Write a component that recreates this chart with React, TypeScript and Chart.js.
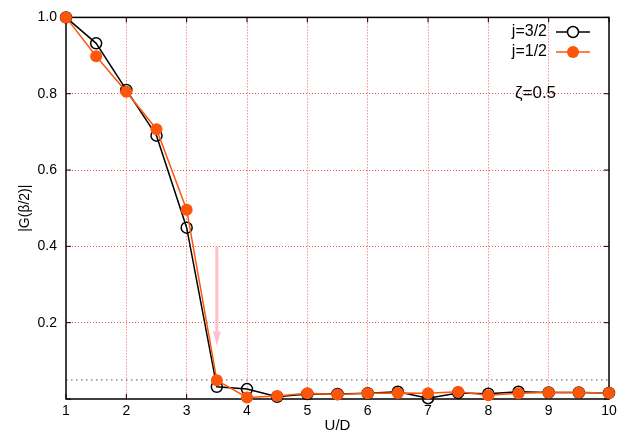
import React, { useEffect, useRef } from 'react';
import { Chart, registerables } from 'chart.js';

Chart.register(...registerables);

const uOverD = [1, 1.5, 2, 2.5, 3, 3.5, 4, 4.5, 5, 5.5, 6, 6.5, 7, 7.5, 8, 8.5, 9, 9.5, 10];
const gJ32 = [1.0, 0.932, 0.81, 0.69, 0.449, 0.032, 0.026, 0.006, 0.013, 0.013, 0.015, 0.019, 0.002, 0.016, 0.014, 0.019, 0.017, 0.017, 0.016];
const gJ12 = [1.0, 0.898, 0.805, 0.707, 0.496, 0.049, 0.004, 0.008, 0.015, 0.012, 0.015, 0.016, 0.015, 0.019, 0.01, 0.015, 0.017, 0.017, 0.016];
const seriesLabels = ['j=3/2', 'j=1/2'];
const thresholdValue = 0.05;
const arrowX = 3.5;
const arrowFrom = 0.4;
const arrowTo = 0.14;
const annotationText = 'ζ=0.5';

const FONT = '"Liberation Sans", Arial, sans-serif';
const ORANGE = '#fc560a';

const decorPlugin = {
  id: 'decor',
  beforeDatasetsDraw(chart: any) {
    const { ctx, chartArea: a, scales } = chart;
    const xs = scales.x;
    const ys = scales.y;
    ctx.save();
    const ty = ys.getPixelForValue(thresholdValue);
    ctx.strokeStyle = '#555';
    ctx.lineWidth = 1;
    ctx.setLineDash([1.5, 3.5]);
    ctx.beginPath();
    ctx.moveTo(a.left, ty);
    ctx.lineTo(a.right, ty);
    ctx.stroke();
    ctx.setLineDash([]);
    const ax = xs.getPixelForValue(arrowX);
    const ay0 = ys.getPixelForValue(arrowFrom);
    const ay1 = ys.getPixelForValue(arrowTo);
    ctx.strokeStyle = '#ffc0cb';
    ctx.fillStyle = '#ffc0cb';
    ctx.lineWidth = 3;
    ctx.beginPath();
    ctx.moveTo(ax, ay0);
    ctx.lineTo(ax, ay1 - 12);
    ctx.stroke();
    ctx.beginPath();
    ctx.moveTo(ax - 4, ay1 - 14);
    ctx.lineTo(ax + 4, ay1 - 14);
    ctx.lineTo(ax, ay1);
    ctx.closePath();
    ctx.fill();
    ctx.strokeStyle = '#000';
    ctx.lineWidth = 1.5;
    ctx.strokeRect(a.left, a.top, a.right - a.left, a.bottom - a.top);
    ctx.lineWidth = 1;
    const tl = 5;
    ctx.beginPath();
    xs.ticks.forEach((t: any) => {
      const px = xs.getPixelForValue(t.value);
      ctx.moveTo(px, a.bottom);
      ctx.lineTo(px, a.bottom - tl);
      ctx.moveTo(px, a.top);
      ctx.lineTo(px, a.top + tl);
    });
    ys.ticks.forEach((t: any) => {
      const py = ys.getPixelForValue(t.value);
      ctx.moveTo(a.left, py);
      ctx.lineTo(a.left + tl, py);
      ctx.moveTo(a.right, py);
      ctx.lineTo(a.right - tl, py);
    });
    ctx.stroke();
    ctx.restore();
  },
  afterDraw(chart: any) {
    const { ctx } = chart;
    ctx.save();
    ctx.font = '16px ' + FONT;
    ctx.textBaseline = 'middle';
    chart.data.datasets.forEach((ds: any, i: number) => {
      const y = 32 + i * 20;
      ctx.fillStyle = '#000';
      ctx.textAlign = 'right';
      ctx.fillText(ds.label, 547, y);
      ctx.strokeStyle = ds.borderColor;
      ctx.lineWidth = 1.5;
      ctx.beginPath();
      ctx.moveTo(556, y);
      ctx.lineTo(590, y);
      ctx.stroke();
      ctx.beginPath();
      ctx.arc(573, y, i === 0 ? 5.5 : 6, 0, Math.PI * 2);
      if (i === 0) {
        ctx.fillStyle = '#fff';
        ctx.fill();
        ctx.stroke();
      } else {
        ctx.fillStyle = ds.backgroundColor;
        ctx.fill();
      }
    });
    ctx.fillStyle = '#000';
    ctx.textAlign = 'left';
    ctx.font = '17px ' + FONT;
    ctx.fillText(annotationText, 515, 93);
    ctx.restore();
  },
};

const gridColor = (edge: number[]) => (c: any) =>
  c.tick && edge.includes(c.tick.value) ? 'rgba(0,0,0,0)' : 'rgba(255,40,40,0.8)';

export default function App() {
  const ref = useRef<HTMLCanvasElement>(null);
  useEffect(() => {
    if (!ref.current) return;
    const chart = new Chart(ref.current, {
      type: 'line',
      data: {
        datasets: [
          {
            label: seriesLabels[0],
            data: uOverD.map((x, i) => ({ x, y: gJ32[i] })),
            borderColor: '#000',
            backgroundColor: 'rgba(255,255,255,0)',
            borderWidth: 1.5,
            pointRadius: 5.5,
            pointBorderWidth: 1.5,
            pointBorderColor: '#000',
            pointBackgroundColor: 'rgba(255,255,255,0)',
            tension: 0,
            clip: false as any,
            order: 1,
          },
          {
            label: seriesLabels[1],
            data: uOverD.map((x, i) => ({ x, y: gJ12[i] })),
            borderColor: ORANGE,
            backgroundColor: ORANGE,
            borderWidth: 1.5,
            pointRadius: 6,
            pointBorderWidth: 0,
            pointBackgroundColor: ORANGE,
            tension: 0,
            clip: false as any,
            order: 0,
          },
        ],
      },
      options: {
        responsive: false,
        animation: false,
        layout: { padding: { left: 0, right: 19, top: 15, bottom: 0 } },
        plugins: { legend: { display: false }, tooltip: { enabled: false } },
        scales: {
          x: {
            type: 'linear',
            min: 1,
            max: 10,
            afterFit: (s: any) => { s.height = 36; },
            ticks: { stepSize: 1, color: '#000', font: { family: FONT, size: 14 }, padding: 4, maxRotation: 0 },
            grid: { color: gridColor([1, 10]), lineWidth: 1, drawTicks: false },
            border: { display: false, dash: [1, 2] },
            title: { display: true, text: 'U/D', color: '#000', font: { family: FONT, size: 15 }, padding: { top: 0, bottom: 0 } },
          },
          y: {
            type: 'linear',
            min: 0,
            max: 1,
            afterFit: (s: any) => { s.width = 66; },
            ticks: {
              stepSize: 0.2,
              color: '#000',
              font: { family: FONT, size: 14 },
              padding: 9,
              callback: (v: any) => (Math.abs(v) < 1e-9 ? '' : Number(v).toFixed(1)),
            },
            grid: { color: gridColor([0, 1]), lineWidth: 1, drawTicks: false },
            border: { display: false, dash: [1, 2] },
            title: { display: true, text: '|G(β/2)|', color: '#000', font: { family: FONT, size: 14 }, padding: { top: 17, bottom: 0 } },
          },
        },
      },
      plugins: [decorPlugin],
    } as any);
    return () => chart.destroy();
  }, []);
  return (
    <div style={{ position: 'fixed', left: 0, top: 0, width: 628, height: 435, background: '#fff' }}>
      <canvas ref={ref} width={628} height={435} />
    </div>
  );
}
